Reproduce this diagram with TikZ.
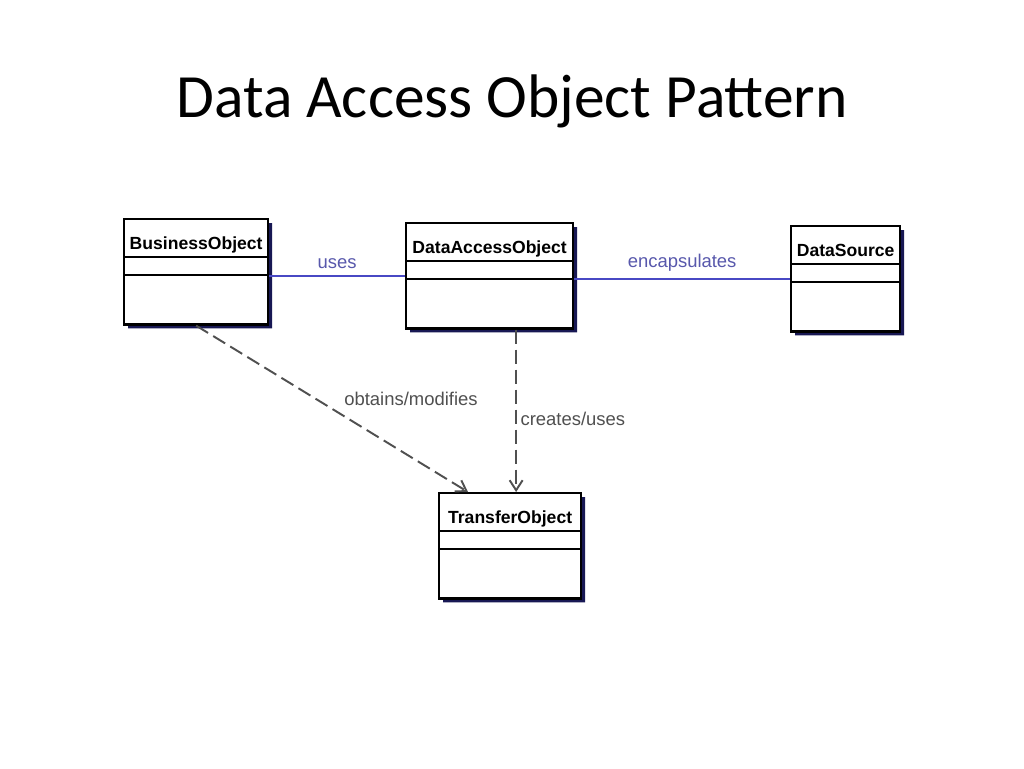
\documentclass[tikz,border=0pt]{standalone}
\usepackage{fontspec}
\setmainfont{Liberation Sans}
\newfontfamily\titlefont{Carlito}
\usepackage{xcolor}
\usepackage{tikz}
\usetikzlibrary{positioning,shapes.multipart,shadows,arrows.meta}

\definecolor{assocblue}{RGB}{72,72,196}
\definecolor{labelblue}{RGB}{88,88,172}
\definecolor{shadownavy}{RGB}{24,24,84}
\definecolor{depgray}{RGB}{80,80,80}

\newcommand{\headpart}{\rule[-0.12cm]{0pt}{0.71cm}}
\newcommand{\attrpart}{\rule{0pt}{0.32cm}}
\newcommand{\oppart}{\rule{0pt}{0.94cm}}

\tikzset{
  umlclass/.style={rectangle split, rectangle split parts=3, draw, line width=1.3pt,
    fill=white, inner xsep=0pt, inner ysep=0pt, align=center, anchor=north west,
    font=\fontsize{10}{12}\selectfont\bfseries,
    drop shadow={shadow xshift=0.08cm, shadow yshift=-0.08cm, fill=shadownavy, opacity=1}},
  assoc/.style={draw=assocblue, line width=1.4pt},
  dep/.style={draw=depgray, line width=1.1pt, dash pattern=on 0.28cm off 0.12cm,
    -{Straight Barb[length=0.2cm, width=0.26cm]}},
  assoclabel/.style={text=labelblue, font=\fontsize{10.5}{12}\selectfont},
  deplabel/.style={text=depgray, font=\fontsize{10.5}{12}\selectfont}
}

\begin{document}
\begin{tikzpicture}[x=0.02cm, y=-0.02cm]
    \fill[white] (0,0) rectangle (1024,768);
    \useasboundingbox (0,0) rectangle (1024,768);
    \node[anchor=base, font=\titlefont\fontsize{35}{40}\selectfont] (title) at (512,117) {Data Access Object Pattern};

    % classes
    \node[umlclass, text width=2.88cm] (business) at (123,218)
      {\headpart BusinessObject \nodepart{two}\attrpart \nodepart{three}\oppart};
    \node[umlclass, text width=3.34cm] (dao) at (405,222)
      {\headpart DataAccessObject \nodepart{two}\attrpart \nodepart{three}\oppart};
    \node[umlclass, text width=2.18cm] (source) at (790,225)
      {\headpart DataSource \nodepart{two}\attrpart \nodepart{three}\oppart};
    \node[umlclass, text width=2.84cm] (transfer) at (438,492)
      {\headpart TransferObject \nodepart{two}\attrpart \nodepart{three}\oppart};

    % associations
    \draw[assoc] (business.east |- dao.west) -- (dao.west)
      node[midway, above, assoclabel] {uses};
    \draw[assoc] (source.west -| dao.east) -- (source.west)
      node[midway, above, assoclabel] {encapsulates};

    % dependencies
    \draw[dep] (business.south) -- ([xshift=0.6cm]transfer.north west)
      node[pos=0.52, above right, deplabel] {obtains/modifies};
    \draw[dep] ([xshift=0.53cm]dao.south) -- ([xshift=0.53cm]dao.south |- transfer.north)
      node[pos=0.55, right, inner xsep=2pt, deplabel] {creates/uses};
\end{tikzpicture}
\end{document}
